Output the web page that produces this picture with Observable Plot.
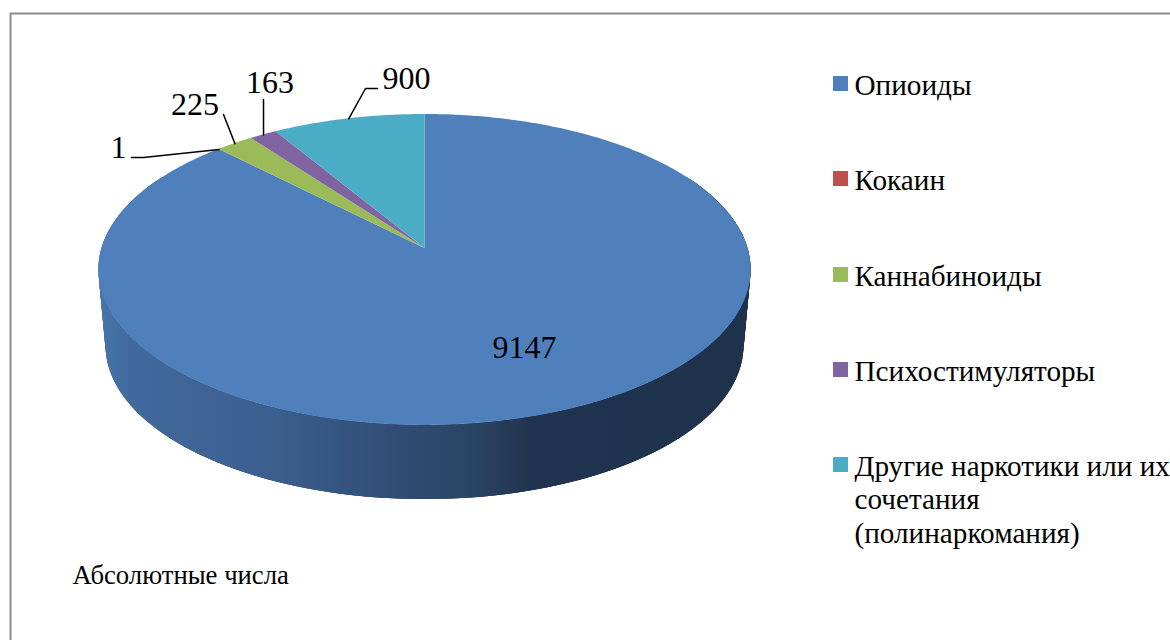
<!DOCTYPE html>
<html>
<head>
<meta charset="utf-8">
<style>html,body{margin:0;padding:0;background:#fff;overflow:hidden}svg{display:block}</style>
<script src="https://cdn.jsdelivr.net/npm/d3@7"></script>
<script src="https://cdn.jsdelivr.net/npm/@observablehq/plot@0.6"></script>
</head>
<body>
<script>
const categories = ["Опиоиды", "Кокаин", "Каннабиноиды", "Психостимуляторы", "Другие наркотики или их\nсочетания\n(полинаркомания)"];
const values = [9147, 1, 225, 163, 900];
const colors = ["#4f80bc", "#c0504d", "#9bbb59", "#8064a2", "#4bacc6"];
const legendTops = [76, 171, 267, 362, 457];
const labelX = [524, 118, 194.5, 269.5, 406];
const labelBaseline = [357, 157, 114, 92, 88];
const leaderStarts = [null, [[131,157],[143,157]], [[223,114]], [[263,99]], [[377,88],[365,88]]];
const sideStopX = [100, 133, 270, 400, 470, 530, 750];
const sideStopColor = ["#4775a9", "#41699b", "#3b5f8f", "#2f4c74", "#2b4565", "#20344f", "#1e324c"];

// Pie geometry: a perspective view of a disc
const cx = 424.5, cy = 248, R = 323, K = 152.5, P = 0.138, DEPTH = 76.5;
const project = (t, depth = 0) => {
  const w = 1 + P * Math.cos(t), s = depth ? 0.978 : 1, sy = depth ? 0.987 : 1;
  return [cx + s * R * Math.sin(t) / w, cy + depth - sy * K * Math.cos(t) / w];
};
const range = (a, b) => { const n = Math.max(2, Math.ceil((b - a) / 0.01)); return d3.range(n + 1).map(i => a + (b - a) * i / n); };

const arcs = d3.pie().sort(null).startAngle(0).endAngle(2 * Math.PI)(values);

// top surface slices
const sliceRows = arcs.flatMap((a, i) => range(a.startAngle, a.endAngle).map(t => {
  const [x, y] = project(t);
  return {i, x1: cx, y1: cy, x2: x, y2: y};
}));

// extruded rim: overlapping quads that all share one horizontal gradient
const sideRows = d3.range(60, 298).flatMap(seg => [seg, seg + 3].map(d => {
  const t = d * Math.PI / 180;
  const [x1, y1] = project(t), [x2, y2] = project(t, DEPTH);
  return {seg, x1, y1, x2, y2};
}));
const gradient = () => {
  const defs = d3.create("svg:defs");
  const g = defs.append("linearGradient").attr("id", "rim").attr("gradientUnits", "userSpaceOnUse")
    .attr("x1", sideStopX[0]).attr("x2", sideStopX[sideStopX.length - 1]).attr("y1", 0).attr("y2", 0);
  sideStopX.forEach((x, i) => g.append("stop")
    .attr("offset", (x - sideStopX[0]) / (sideStopX[sideStopX.length - 1] - sideStopX[0]))
    .attr("stop-color", sideStopColor[i]));
  return defs.node();
};

// leader lines end on the mid-angle of their slice
const leaders = arcs.flatMap((a, i) => {
  if (!leaderStarts[i]) return [];
  const [x, y] = project((a.startAngle + a.endAngle) / 2);
  return [...leaderStarts[i].map(p => ({i, x: p[0], y: p[1]})), {i, x, y}];
});

const serif = "'Liberation Serif', 'Times New Roman', serif";
const legendFs = 29.2, labelFs = 32, legendLine = 34 / 29.2;
const frame = [{x: 1170, y: 13}, {x: 10, y: 13}, {x: 10, y: 640}];

const chart = Plot.plot({
  width: 1170, height: 640,
  margin: 0,
  x: {domain: [0, 1170], range: [0, 1170], axis: null},
  y: {domain: [0, 640], range: [0, 640], axis: null},
  style: {background: "#fff", fontFamily: serif},
  marks: [
    gradient,
    Plot.line(frame, {x: "x", y: "y", stroke: "#8c8c8c", strokeWidth: 2, curve: "linear"}),
    Plot.area(sideRows, {x1: "x1", y1: "y1", x2: "x2", y2: "y2", z: "seg", fill: "url(#rim)", curve: "linear"}),
    Plot.area(sliceRows, {x1: "x1", y1: "y1", x2: "x2", y2: "y2", z: "i", fill: d => colors[d.i], curve: "linear"}),
    Plot.line(leaders, {x: "x", y: "y", z: "i", stroke: "#000", strokeWidth: 1.5, curve: "linear"}),
    Plot.text(values, {x: (d, i) => labelX[i], y: (d, i) => labelBaseline[i], text: d => String(d), fontSize: labelFs, lineAnchor: "bottom", textAnchor: "middle", fill: "#000"}),
    Plot.rect(categories, {x1: () => 833, x2: () => 848, y1: (d, i) => legendTops[i], y2: (d, i) => legendTops[i] + 15, fill: (d, i) => colors[i]}),
    Plot.text(categories, {x: () => 854, y: (d, i) => legendTops[i] + 18 - 0.71 * legendLine * legendFs, text: d => d, fontSize: legendFs, lineHeight: legendLine, lineAnchor: "top", textAnchor: "start", fill: "#000"}),
    Plot.text(["Абсолютные числа"], {x: () => 72, y: () => 583, text: d => d, fontSize: 26.7, lineAnchor: "bottom", textAnchor: "start", fill: "#000"})
  ]
});
document.body.append(chart);
</script>
</body>
</html>
